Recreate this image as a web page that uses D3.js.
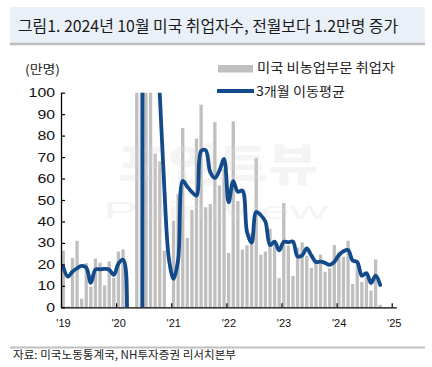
<!DOCTYPE html>
<html><head><meta charset="utf-8">
<script src="https://cdn.jsdelivr.net/npm/d3@7"></script>
<style>html,body{margin:0;padding:0;background:#fff}svg{display:block}</style>
</head><body>
<script>
// ---- data (만명, monthly change in US nonfarm payrolls) ----
const startYear = 2019;
const yearLabels = ["'19","'20","'21","'22","'23","'24","'25"];
const yTicks = [0,10,20,30,40,50,60,70,80,90,100];
const payrolls = [
  26.4, 0.5, 23.0, 31.0, 4.0, 20.6, 9.6, 22.7, 20.8, 10.2, 21.4, 13.7,
  26.0, 27.0, -137.3, -2047.7, 272.5, 478.1, 172.6, 158.3, 71.6, 68.0, 26.4, -26.8,
  40.4, 52.8, 83.5, 32.3, 45.3, 78.6, 94.4, 46.6, 48.1, 86.3, 56.8, 64.5,
  25.3, 86.7, 49.5, 26.9, 28.9, 34.6, 69.6, 24.5, 26.0, 36.6, 29.2, 13.6,
  48.6, 28.7, 14.6, 27.8, 30.3, 24.0, 18.4, 21.0, 24.6, 16.5, 18.2, 29.0,
  25.6, 23.6, 31.0, 10.8, 21.6, 11.8, 14.4, 7.8, 22.3, 1.2
];
const movingAvg = [
  18.8, 14.3, 16.6, 18.2, 19.3, 18.5, 11.4, 17.6, 17.7, 17.9, 17.5, 15.1,
  20.4, 22.2, -28.1, -719.3, -637.5, -432.4, 307.7, 269.7, 134.2, 99.3, 55.3, 22.5,
  13.3, 22.1, 58.9, 56.2, 53.7, 52.1, 72.8, 73.2, 63.0, 60.3, 63.7, 69.2,
  48.9, 58.8, 53.8, 54.4, 35.1, 30.1, 44.4, 42.9, 40.0, 29.0, 30.6, 26.5,
  30.5, 30.3, 30.6, 23.7, 24.2, 27.4, 24.2, 21.1, 21.3, 20.7, 19.8, 21.2,
  24.3, 26.1, 26.7, 21.8, 21.1, 14.7, 15.9, 11.3, 14.8, 10.4
];
const titleText = "그림1. 2024년 10월 미국 취업자수, 전월보다 1.2만명 증가";
const unitText = "(만명)";
const legendBar = "미국 비농업부문 취업자";
const legendLine = "3개월 이동평균";
const sourceText = "자료: 미국노동통계국, NH투자증권 리서치본부";

// ---- layout ----
const W = 432, H = 367;
const X0 = 61, X1 = 396.3, Y0 = 307.3, Y1 = 92.7;
const BAR = "#BFBFBF", LINE = "#124A8B";
const KR = "'Noto Sans CJK KR','Noto Sans',sans-serif";
const NUM = "'Liberation Sans',Arial,sans-serif";

const months = d3.range(73).map(i => new Date(startYear, i, 1));
const svg = d3.select("body").append("svg").attr("width", W).attr("height", H);

// title
svg.append("rect").attr("x",10).attr("y",7).attr("width",415).attr("height",36).attr("fill","#EAF0F8");
svg.append("line").attr("x1",10).attr("x2",425).attr("y1",44).attr("y2",44).attr("stroke","#BDBDBD").attr("stroke-width",2.5);
svg.append("text").attr("x",18).attr("y",32).attr("font-family",KR).attr("font-size",16).attr("fill","#1a1a1a")
  .attr("textLength",380).attr("lengthAdjust","spacingAndGlyphs").text(titleText);

// scales
const x = d3.scaleBand().domain(months).range([X0, X1]).paddingInner(0.28).paddingOuter(0.14);
const xIdx = d3.scaleLinear().domain([0, 73]).range([X0, X1]);
const y = d3.scaleLinear().domain([0, 100]).range([Y0, Y1]).clamp(true);
const yLine = y.copy().clamp(false);

// clip
svg.append("defs").append("clipPath").attr("id","plot").append("rect")
  .attr("x",X0).attr("y",Y1).attr("width",X1-X0).attr("height",Y0-Y1);

// bars
svg.append("g").selectAll("rect").data(payrolls).join("rect")
  .attr("x",(d,i)=>x(months[i])).attr("width",x.bandwidth())
  .attr("y",d=>y(d)).attr("height",d=>y(0)-y(d)).attr("fill",BAR);

// watermark (very faint)
const wm = svg.append("g").attr("opacity",0.28).attr("fill","#DADADA");
wm.append("text").attr("x",118).attr("y",181).attr("font-family",KR).attr("font-weight",900)
  .attr("font-size",44).attr("textLength",200).attr("lengthAdjust","spacingAndGlyphs").text("포인트뷰");
wm.append("text").attr("x",103).attr("y",219).attr("font-family",NUM)
  .attr("font-size",23).attr("textLength",225).attr("lengthAdjust","spacingAndGlyphs").text("Pointview");

// moving average line
const line = d3.line()
  .x((d,i)=>x(months[i]) + x.bandwidth()/2)
  .y(d=>yLine(d))
  .curve(d3.curveCatmullRom.alpha(0.5));
svg.append("path").datum(movingAvg).attr("clip-path","url(#plot)")
  .attr("d",line).attr("fill","none").attr("stroke",LINE).attr("stroke-width",3.8)
  .attr("stroke-linejoin","round").attr("stroke-linecap","round");

// axes
const gy = svg.append("g").attr("transform",`translate(${X0},0)`)
  .call(d3.axisLeft(y).tickValues(yTicks).tickSizeInner(-4).tickSizeOuter(0).tickPadding(6));
const gx = svg.append("g").attr("transform",`translate(0,${Y0})`)
  .call(d3.axisBottom(xIdx).tickValues(d3.range(0,73,12)).tickFormat((d,i)=>yearLabels[i])
    .tickSizeInner(-4).tickSizeOuter(0).tickPadding(12));
[gx, gy].forEach(g=>{
  g.select(".domain").attr("stroke","#000").attr("stroke-width",1.3);
  g.selectAll(".tick line").attr("stroke","#000").attr("stroke-width",1.2);
  g.selectAll("text").attr("fill","#111").attr("font-family",NUM);
});
gy.selectAll("text").attr("font-size",12.5)
  .attr("textLength",function(){ return 8.8*this.textContent.length; })
  .attr("lengthAdjust","spacingAndGlyphs");
gx.selectAll("text").attr("font-size",11).attr("dx",2);

// unit
svg.append("text").attr("x",25).attr("y",74).attr("font-family",KR).attr("font-size",12.5).attr("fill","#222")
  .attr("textLength",35).attr("lengthAdjust","spacingAndGlyphs").text(unitText);

// legend
svg.append("rect").attr("x",218).attr("y",65).attr("width",35).attr("height",7.5).attr("fill",BAR);
svg.append("text").attr("x",257).attr("y",72).attr("font-family",KR).attr("font-size",13).attr("fill","#222")
  .attr("textLength",138).attr("lengthAdjust","spacingAndGlyphs").text(legendBar);
svg.append("line").attr("x1",217).attr("x2",254).attr("y1",91).attr("y2",91).attr("stroke",LINE).attr("stroke-width",3.8);
svg.append("text").attr("x",256).attr("y",95.5).attr("font-family",KR).attr("font-size",13).attr("fill","#222")
  .attr("textLength",89).attr("lengthAdjust","spacingAndGlyphs").text(legendLine);

// footer
svg.append("line").attr("x1",10).attr("x2",425).attr("y1",347.5).attr("y2",347.5).attr("stroke","#C0C0C0").attr("stroke-width",2);
svg.append("text").attr("x",13).attr("y",359).attr("font-family",KR).attr("font-size",11.5).attr("fill","#222")
  .attr("textLength",223).attr("lengthAdjust","spacingAndGlyphs").text(sourceText);
</script>
</body></html>
